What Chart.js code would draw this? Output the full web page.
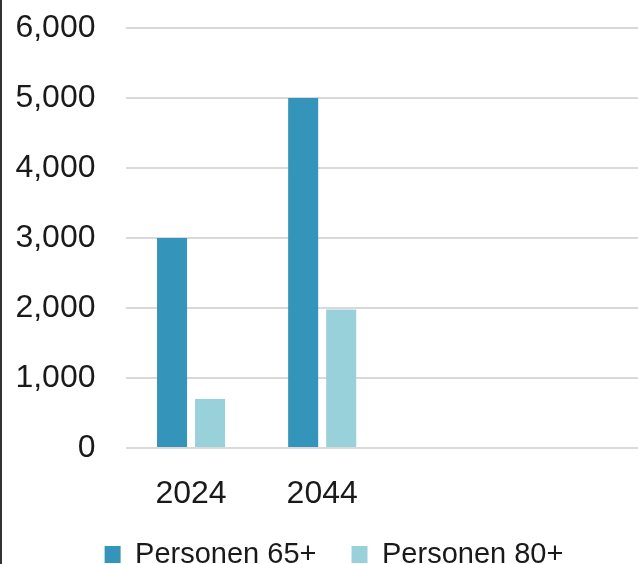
<!DOCTYPE html>
<html>
<head>
<meta charset="utf-8">
<script src="https://cdn.jsdelivr.net/npm/chart.js@4.4.0/dist/chart.umd.min.js"></script>
<style>
  html, body { margin: 0; padding: 0; background: #fff; overflow: hidden; }
  #wrap { position: relative; width: 638px; height: 564px; overflow: hidden; }
  #edge { position: absolute; left: 0; top: 0; width: 2px; height: 564px; background: #333; z-index: 2; }
  #box { position: absolute; left: 0; top: 0; width: 650px; height: 579px; }
</style>
</head>
<body>
<div id="wrap">
  <div id="edge"></div>
  <div id="box"><canvas id="chart"></canvas></div>
</div>
<script>
// data
const years = ['2024', '2044', '', ''];
const persons65 = [3000, 5000, null, null];
const persons80 = [700, 1980, null, null];
const yTicks = [0, 1000, 2000, 3000, 4000, 5000, 6000];

Chart.defaults.font.family = "'Liberation Sans', Arial, sans-serif";
Chart.defaults.color = '#1a1a1a';

// nudge the legend a bit to the right, like the original
const shiftLegend = {
    id: 'shiftLegend',
    afterLayout(chart) {
        chart.legend.left += 9;
        chart.legend.right += 9;
    }
};

new Chart(document.getElementById('chart'), {
    type: 'bar',
    data: {
        labels: years,
        datasets: [{
            label: 'Personen 65+',
            data: persons65,
            backgroundColor: '#3494BA',
            categoryPercentage: 0.58,
            barPercentage: 0.79
        }, {
            label: 'Personen 80+',
            data: persons80,
            backgroundColor: '#98D1D9',
            categoryPercentage: 0.58,
            barPercentage: 0.79
        }]
    },
    plugins: [shiftLegend],
    options: {
        responsive: true,
        maintainAspectRatio: false,
        animation: false,
        layout: { padding: { top: 28, left: 0, right: 0, bottom: 0 } },
        plugins: {
            tooltip: { enabled: false },
            legend: {
                position: 'bottom',
                labels: {
                    font: { size: 29 },
                    boxWidth: 16,
                    boxHeight: 17,
                    padding: 35
                }
            }
        },
        scales: {
            x: {
                afterFit: s => { s.height = 57; },
                grid: { display: false },
                border: { display: false },
                ticks: { font: { size: 32 }, padding: 19 }
            },
            y: {
                min: 0,
                max: 6000,
                afterFit: s => { s.width = 125.5; s.paddingTop = 0; s.paddingBottom = 0; },
                afterBuildTicks: s => { s.ticks = yTicks.map(v => ({ value: v })); },
                border: { display: false },
                grid: { color: '#D9D9D9', lineWidth: 2, drawTicks: false },
                ticks: {
                    font: { size: 32 },
                    padding: 30,
                    callback: v => v.toLocaleString('en-US')
                }
            }
        }
    }
});
</script>
</body>
</html>
